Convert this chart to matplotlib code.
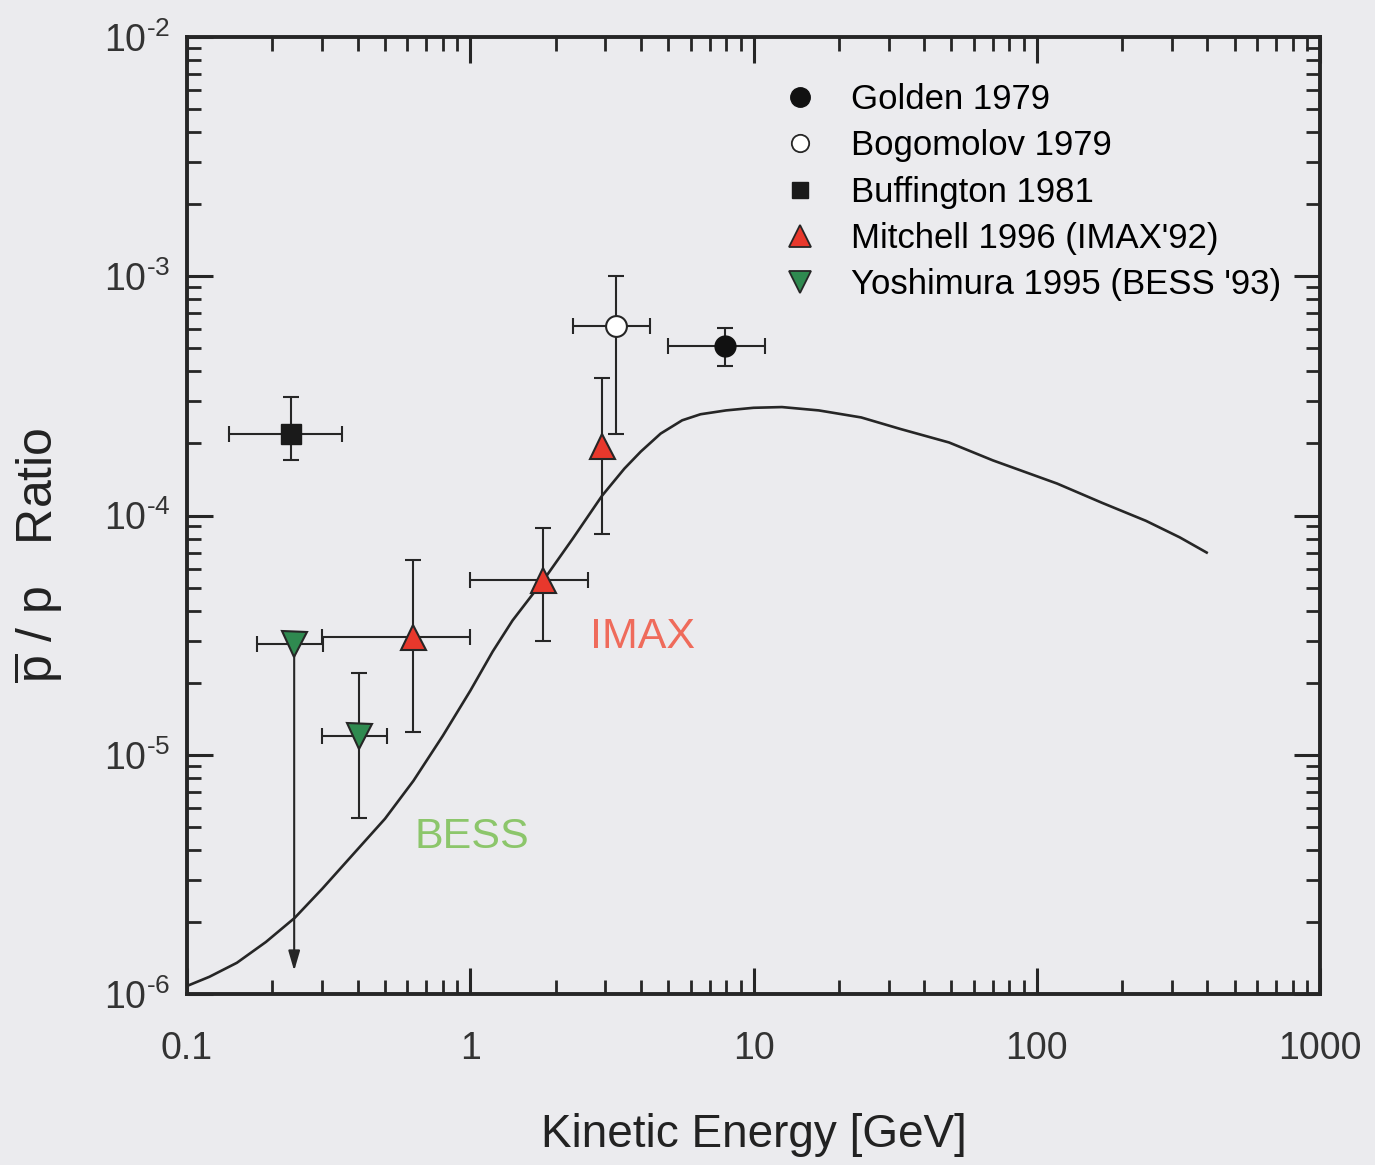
"""
Antiproton / proton ratio vs kinetic energy: balloon measurements
compared with the secondary-production model curve.
"""

import matplotlib
matplotlib.use("Agg")
import matplotlib.pyplot as plt
from matplotlib.lines import Line2D

plt.rcParams["font.family"] = ["Liberation Sans", "DejaVu Sans"]
plt.rcParams["mathtext.fontset"] = "custom"
plt.rcParams["mathtext.rm"] = "Liberation Sans"
plt.rcParams["mathtext.it"] = "Liberation Sans"
plt.rcParams["mathtext.default"] = "regular"

BG       = "#ebebee"
INK      = "#262626"
RED      = "#e8382c"
GREEN    = "#2f8a50"

# ── Model curve (secondary pbar/p) ────────────────────────
model_E = [0.1, 0.12, 0.15, 0.19, 0.24, 0.3, 0.39, 0.5, 0.63, 0.8,
           1.0, 1.2, 1.41, 1.81, 2.3, 2.92, 3.5, 4.0, 4.7, 5.6,
           6.5, 8.0, 10.0, 12.6, 17.0, 24.0, 33.0, 49.0, 70.0, 118,
           170, 243, 320, 398]
model_R = [1.08e-6, 1.18e-6, 1.35e-6, 1.65e-6, 2.08e-6, 2.75e-6, 3.89e-6, 5.4e-6, 7.78e-6, 1.2e-5,
           1.85e-5, 2.7e-5, 3.64e-5, 5.35e-5, 8.0e-5, 1.21e-4, 1.57e-4, 1.85e-4, 2.2e-4, 2.5e-4,
           2.65e-4, 2.75e-4, 2.82e-4, 2.84e-4, 2.75e-4, 2.57e-4, 2.3e-4, 2.02e-4, 1.7e-4, 1.36e-4,
           1.13e-4, 9.5e-5, 8.1e-5, 7.0e-5]

# ── Golden 1979 ───────────────────────────────────────────
golden_E    = [7.9]
golden_R    = [5.1e-4]
golden_Elo  = [5.0]
golden_Ehi  = [11.0]
golden_Rlo  = [4.2e-4]
golden_Rhi  = [6.1e-4]

# ── Bogomolov 1979 ────────────────────────────────────────
bogo_E    = [3.27]
bogo_R    = [6.2e-4]
bogo_Elo  = [2.30]
bogo_Ehi  = [4.31]
bogo_Rlo  = [2.2e-4]
bogo_Rhi  = [1.0e-3]

# ── Buffington 1981 ───────────────────────────────────────
buff_E    = [0.233]
buff_R    = [2.2e-4]
buff_Elo  = [0.141]
buff_Ehi  = [0.352]
buff_Rlo  = [1.7e-4]
buff_Rhi  = [3.12e-4]

# ── Mitchell 1996 (IMAX '92) ──────────────────────────────
imax_E    = [0.628, 1.81, 2.92]
imax_R    = [3.1e-5, 5.35e-5, 1.96e-4]
imax_Elo  = [0.30, 1.0, 2.92]
imax_Ehi  = [1.0, 2.60, 2.92]
imax_Rlo  = [1.24e-5, 3.0e-5, 8.4e-5]
imax_Rhi  = [6.5e-5, 8.9e-5, 3.74e-4]

# ── Yoshimura 1995 (BESS '93) ─────────────────────────────
bess_E    = [0.239, 0.405]
bess_R    = [2.9e-5, 1.2e-5]
bess_Elo  = [0.177, 0.30]
bess_Ehi  = [0.302, 0.508]
bess_Rlo  = [2.9e-5, 5.45e-6]
bess_Rhi  = [2.9e-5, 2.2e-5]
# first BESS bin is an upper limit drawn down to this value
bess_limit_to = 1.25e-6

legend_labels = ["Golden 1979", "Bogomolov 1979", "Buffington 1981",
                 "Mitchell 1996 (IMAX'92)", "Yoshimura 1995 (BESS '93)"]

x_ticks  = [0.1, 1, 10, 100, 1000]
x_labels = ["0.1", "1", "10", "100", "1000"]
y_exps   = [-6, -5, -4, -3, -2]


def asym(center, lo, hi):
    return [[c - l for c, l in zip(center, lo)], [h - c for c, h in zip(center, hi)]]


fig = plt.figure(figsize=(13.75, 11.65), dpi=100, facecolor=BG)
ax = fig.add_axes([0.136, 0.1468, 0.824, 0.8214], facecolor=BG)
ax.set_xscale("log")
ax.set_yscale("log")
ax.set_xlim(0.1, 1000)
ax.set_ylim(1e-6, 1e-2)

ax.plot(model_E, model_R, color=INK, lw=1.9, zorder=2, solid_joinstyle="round")

eb_kw = dict(fmt="none", ecolor=INK, elinewidth=1.5, capsize=6, capthick=1.5, zorder=3)
ax.errorbar(golden_E, golden_R, xerr=asym(golden_E, golden_Elo, golden_Ehi),
            yerr=asym(golden_R, golden_Rlo, golden_Rhi), **eb_kw)
ax.errorbar(bogo_E, bogo_R, xerr=asym(bogo_E, bogo_Elo, bogo_Ehi),
            yerr=asym(bogo_R, bogo_Rlo, bogo_Rhi), **eb_kw)
ax.errorbar(buff_E, buff_R, xerr=asym(buff_E, buff_Elo, buff_Ehi),
            yerr=asym(buff_R, buff_Rlo, buff_Rhi), **eb_kw)
ax.errorbar(imax_E[:2], imax_R[:2], xerr=asym(imax_E[:2], imax_Elo[:2], imax_Ehi[:2]),
            yerr=asym(imax_R[:2], imax_Rlo[:2], imax_Rhi[:2]), **eb_kw)
ax.errorbar(imax_E[2:], imax_R[2:], yerr=asym(imax_R[2:], imax_Rlo[2:], imax_Rhi[2:]), **eb_kw)
ax.errorbar(bess_E[:1], bess_R[:1], xerr=asym(bess_E[:1], bess_Elo[:1], bess_Ehi[:1]), **eb_kw)
ax.errorbar(bess_E[1:], bess_R[1:], xerr=asym(bess_E[1:], bess_Elo[1:], bess_Ehi[1:]),
            yerr=asym(bess_R[1:], bess_Rlo[1:], bess_Rhi[1:]), **eb_kw)

# upper-limit arrow for the lowest BESS bin
ax.annotate("", xy=(bess_E[0], bess_limit_to), xytext=(bess_E[0], bess_R[0]),
            arrowprops=dict(arrowstyle="-|>,head_length=1.2,head_width=0.35",
                            color=INK, lw=1.5, shrinkA=0, shrinkB=0), zorder=3)

mk = dict(ls="none", zorder=4)
ax.plot(golden_E, golden_R, marker="o", ms=15, mfc="#111111", mec="#111111", **mk)
ax.plot(bogo_E, bogo_R, marker="o", ms=15, mfc="white", mec=INK, mew=1.5, **mk)
ax.plot(buff_E, buff_R, marker="s", ms=14, mfc="#1a1a1a", mec="#1a1a1a", **mk)
ax.plot(imax_E, imax_R, marker="^", ms=18, mfc=RED, mec=INK, mew=1.5, **mk)
ax.plot(bess_E, bess_R, marker="v", ms=18, mfc=GREEN, mec=INK, mew=1.5, **mk)

ax.text(4.07, 3.12e-5, "IMAX", color="#ef6b5b", fontsize=31, ha="center", va="center")
ax.text(1.01, 4.54e-6, "BESS", color="#8cc66b", fontsize=31, ha="center", va="center")

handles = [
    Line2D([], [], ls="none", marker="o", ms=14, mfc="#111111", mec="#111111"),
    Line2D([], [], ls="none", marker="o", ms=12.5, mfc="white", mec=INK, mew=1.3),
    Line2D([], [], ls="none", marker="s", ms=12, mfc="#1a1a1a", mec="#1a1a1a"),
    Line2D([], [], ls="none", marker="^", ms=16, mfc=RED, mec=INK, mew=1.3),
    Line2D([], [], ls="none", marker="v", ms=16, mfc=GREEN, mec=INK, mew=1.3),
]
ax.legend(handles, legend_labels, loc="upper left", bbox_to_anchor=(0.5265, 0.952),
          frameon=False, fontsize=25, handlelength=0.95, handletextpad=1.0,
          labelspacing=0.385, borderpad=0, borderaxespad=0)

# ── Axes styling ──────────────────────────────────────────
for s in ax.spines.values():
    s.set_linewidth(2.8)
    s.set_color(INK)
ax.tick_params(which="both", direction="in", top=True, right=True, color=INK)
ax.tick_params(which="major", length=19, width=2.2)
ax.tick_params(which="minor", length=10, width=2.0)
ax.tick_params(axis="x", which="major", pad=27, labelsize=27, labelcolor="#333333")
ax.tick_params(axis="y", which="major", pad=12, labelsize=27, labelcolor="#333333")

ax.set_xticks(x_ticks)
ax.set_xticklabels(x_labels)
ax.set_yticks([10.0 ** e for e in y_exps])
ax.set_yticklabels(["$10^{\u2010%d}$" % -e for e in y_exps])

ax.set_xlabel("Kinetic Energy [GeV]", fontsize=33, color="#222222", labelpad=33)
ax.set_ylabel(r"$\overline{p}$ / p   Ratio", fontsize=36, color="#222222")
ax.yaxis.set_label_coords(-0.108, 0.459)

fig.savefig("out.png", dpi=100, facecolor=BG)
